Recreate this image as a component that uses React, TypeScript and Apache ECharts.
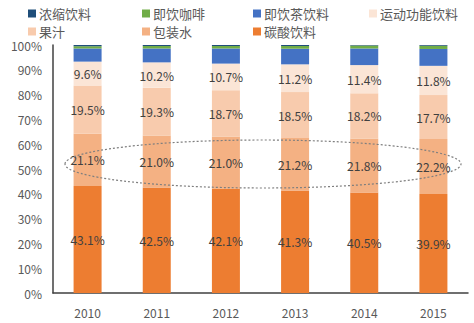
import React, { useEffect, useRef } from "react";
import * as echarts from "echarts";

const years = ["2010", "2011", "2012", "2013", "2014", "2015"];
const carbonated = [43.1, 42.5, 42.1, 41.3, 40.5, 39.9];
const water = [21.1, 21.0, 21.0, 21.2, 21.8, 22.2];
const juice = [19.5, 19.3, 18.7, 18.5, 18.2, 17.7];
const sports = [9.6, 10.2, 10.7, 11.2, 11.4, 11.8];
const tea = [5.3, 5.6, 6.1, 6.3, 6.7, 6.8];
const coffee = [0.9, 1.0, 1.0, 1.1, 1.2, 1.3];
const concentrate = [0.5, 0.4, 0.4, 0.4, 0.2, 0.3];
const yTicks = [0, 10, 20, 30, 40, 50, 60, 70, 80, 90, 100];

const FONT = "'Noto Sans CJK SC', 'Noto Sans', sans-serif";

export default function App() {
  const ref = useRef<HTMLDivElement>(null);
  useEffect(() => {
    const chart = echarts.init(ref.current!, undefined, { renderer: "svg" });
    const mk = (name: string, data: number[], color: string, label: boolean) => ({
      name,
      type: "bar",
      stack: "s",
      data,
      barWidth: 28,
      itemStyle: { color },
      label: label
        ? {
            show: true,
            position: "inside",
            formatter: (p: any) => p.value.toFixed(1) + "%",
            color: "#404040",
            fontSize: 12,
            fontFamily: FONT,
          }
        : { show: false },
    });
    const legendItems = [
      { name: "浓缩饮料", left: 28, top: 7 },
      { name: "即饮咖啡", left: 142, top: 7 },
      { name: "即饮茶饮料", left: 253, top: 7 },
      { name: "运动功能饮料", left: 369, top: 7 },
      { name: "果汁", left: 28, top: 25 },
      { name: "包装水", left: 142, top: 25 },
      { name: "碳酸饮料", left: 253, top: 25 },
    ];
    chart.setOption({
      animation: false,
      textStyle: { fontFamily: FONT },
      legend: legendItems.map((l) => ({
        data: [l.name],
        left: l.left,
        top: l.top,
        itemWidth: 8,
        itemHeight: 8,
        itemGap: 0,
        padding: 0,
        textStyle: { fontSize: 13, color: "#595959", fontFamily: FONT, padding: [0, 0, 0, -2] },
        icon: "rect",
      })),
      grid: { left: 53, right: 6, top: 45, bottom: 30, containLabel: false },
      xAxis: {
        type: "category",
        data: years,
        axisLine: { lineStyle: { color: "#404040", width: 1.5 } },
        axisTick: { show: false },
        axisLabel: { color: "#595959", fontSize: 12, margin: 13, fontFamily: FONT },
      },
      yAxis: {
        type: "value",
        min: 0,
        max: 100,
        interval: 10,
        axisLine: { show: true, lineStyle: { color: "#404040", width: 1.5 } },
        axisTick: { show: false },
        splitLine: { show: false },
        axisLabel: {
          color: "#595959",
          fontSize: 12,
          margin: 11,
          fontFamily: FONT,
          formatter: (v: number) => (yTicks.includes(v) ? v + "%" : ""),
        },
      },
      series: [
        mk("碳酸饮料", carbonated, "#ED7D31", true),
        mk("包装水", water, "#F4B183", true),
        mk("果汁", juice, "#F8CBAD", true),
        mk("运动功能饮料", sports, "#FBE5D6", true),
        mk("即饮茶饮料", tea, "#4472C4", false),
        mk("即饮咖啡", coffee, "#70AD47", false),
        mk("浓缩饮料", concentrate, "#1F4E79", false),
      ],
      graphic: [
        {
          type: "ellipse",
          shape: { cx: 263, cy: 164, rx: 198, ry: 24 },
          style: { fill: "none", stroke: "#7F7F7F", lineWidth: 1.2, lineDash: [2, 2] },
          z: 10,
        },
      ],
    });
    return () => chart.dispose();
  }, []);
  return <div ref={ref} style={{ width: 474, height: 323, position: "absolute", left: 0, top: 0 }} />;
}
